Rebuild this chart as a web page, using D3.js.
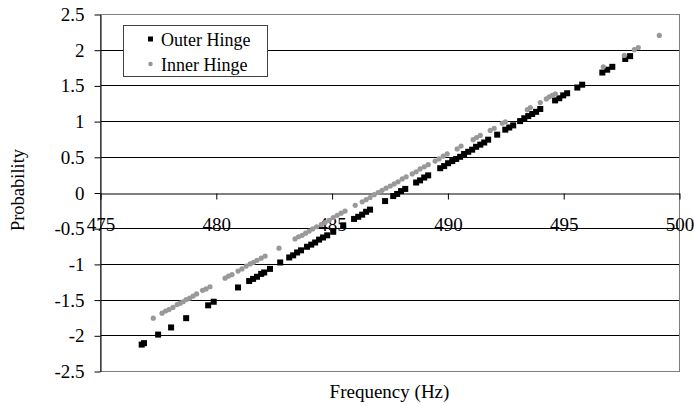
<!DOCTYPE html>
<html>
<head>
<meta charset="utf-8">
<script src="https://cdn.jsdelivr.net/npm/d3@7/dist/d3.min.js"></script>
<style>
  html, body { margin: 0; padding: 0; background: #fff; }
  svg text { font-family: "Liberation Serif", "Times New Roman", serif; fill: #000; }
</style>
</head>
<body>
<div id="chart"></div>
<script>
// Outer Hinge (black squares)
var outerFreq = [476.80, 476.90, 477.51, 478.07, 478.72, 479.67, 479.91, 480.96,
  481.44, 481.61, 481.78, 481.96, 482.09, 482.34, 482.78,
  483.17, 483.34, 483.51, 483.68, 483.94, 484.12, 484.29, 484.46, 484.63, 484.81,
  485.07, 485.50, 485.97, 486.15, 486.32, 486.49, 486.66, 487.31,
  487.66, 487.83, 488.00, 488.18, 488.65, 488.82, 489.00, 489.17,
  489.69, 489.86, 490.03, 490.21, 490.38, 490.55, 490.72, 490.90, 491.07, 491.24,
  491.42, 491.59, 491.76, 492.15, 492.50, 492.67, 492.84,
  493.14, 493.32, 493.49, 493.66, 493.83, 494.01, 494.65, 494.83, 495.00, 495.17,
  495.61, 495.82, 496.69, 496.90, 497.12, 497.68, 497.89];
var outerProb = [-2.13, -2.11, -1.99, -1.89, -1.76, -1.58, -1.53, -1.33,
  -1.24, -1.21, -1.18, -1.14, -1.12, -1.07, -0.98,
  -0.91, -0.88, -0.84, -0.81, -0.76, -0.73, -0.70, -0.66, -0.63, -0.60,
  -0.55, -0.46, -0.37, -0.34, -0.31, -0.27, -0.24, -0.12,
  -0.05, -0.02, 0.02, 0.05, 0.14, 0.17, 0.21, 0.24,
  0.34, 0.37, 0.41, 0.44, 0.47, 0.50, 0.54, 0.57, 0.60, 0.64,
  0.67, 0.70, 0.74, 0.81, 0.88, 0.91, 0.94,
  1.00, 1.04, 1.07, 1.10, 1.13, 1.17, 1.29, 1.32, 1.36, 1.39,
  1.47, 1.51, 1.68, 1.72, 1.76, 1.87, 1.91];

// Inner Hinge (grey dots)
var innerFreq = [477.30, 477.68, 477.83, 477.98, 478.15, 478.33, 478.46, 478.59,
  478.72, 478.87, 479.02, 479.17, 479.43, 479.58, 479.75, 480.40, 480.55, 480.70,
  480.96, 481.13, 481.31, 481.48, 481.63, 481.78, 481.96, 482.13, 482.73,
  483.42, 483.57, 483.73, 483.88, 484.03, 484.18, 484.35,
  484.55, 484.72, 484.89, 485.07, 485.24, 485.41, 485.58, 486.02,
  486.32, 486.49, 486.66, 486.84, 487.01, 487.18, 487.35, 487.53, 487.70, 487.87,
  488.05, 488.22, 488.48, 488.65, 488.82, 489.00, 489.17,
  489.47, 489.64, 489.82, 489.99, 490.42, 490.59, 491.11, 491.26, 491.42,
  491.85, 492.02, 492.37, 492.50, 493.45, 493.58, 494.01,
  494.27, 494.40, 494.53, 494.66, 496.73, 497.64, 498.07, 498.24, 499.15];
var innerProb = [-1.76, -1.69, -1.66, -1.64, -1.61, -1.57, -1.55, -1.53,
  -1.50, -1.48, -1.45, -1.42, -1.37, -1.35, -1.32, -1.20, -1.17, -1.15,
  -1.10, -1.07, -1.03, -1.00, -0.98, -0.95, -0.92, -0.89, -0.78,
  -0.65, -0.62, -0.60, -0.57, -0.54, -0.51, -0.48,
  -0.45, -0.42, -0.39, -0.35, -0.32, -0.29, -0.26, -0.18,
  -0.13, -0.10, -0.07, -0.03, 0.00, 0.03, 0.06, 0.09, 0.12, 0.15,
  0.19, 0.22, 0.26, 0.29, 0.33, 0.36, 0.39,
  0.44, 0.47, 0.51, 0.54, 0.61, 0.65, 0.74, 0.77, 0.80,
  0.87, 0.90, 0.97, 0.99, 1.16, 1.19, 1.26,
  1.31, 1.34, 1.36, 1.38, 1.76, 1.92, 2.00, 2.03, 2.20];

var xTicks = [475, 480, 485, 490, 495, 500];
var yTicks = [-2.5, -2, -1.5, -1, -0.5, 0, 0.5, 1, 1.5, 2, 2.5];
var seriesNames = ['Outer Hinge', 'Inner Hinge'];

var outer = outerFreq.map((f, i) => ({f: f, p: outerProb[i]}));
var inner = innerFreq.map((f, i) => ({f: f, p: innerProb[i]}));

var W = 694, H = 406;
var plot = {left: 100, right: 679, top: 14, bottom: 371};

var x = d3.scaleLinear().domain([475, 500]).range([plot.left, plot.right]);
var y = d3.scaleLinear().domain([-2.5, 2.5]).range([plot.bottom, plot.top]);

var svg = d3.select('#chart')
  .append('svg')
    .attr('width', W)
    .attr('height', H);

// horizontal gridlines
svg.append('g')
  .selectAll('line')
  .data(yTicks.filter(d => d !== 0 && Math.abs(d) !== 2.5))
  .enter().append('line')
    .attr('x1', plot.left).attr('x2', plot.right)
    .attr('y1', d => Math.round(y(d)) + 0.5)
    .attr('y2', d => Math.round(y(d)) + 0.5)
    .attr('stroke', '#000')
    .attr('stroke-width', 1);

// plot area border
svg.append('rect')
  .attr('x', plot.left + 0.5).attr('y', plot.top + 0.5)
  .attr('width', plot.right - plot.left).attr('height', plot.bottom - plot.top)
  .attr('fill', 'none')
  .attr('stroke', '#808080');

// y axis
var yAxis = d3.axisLeft(y)
  .tickValues(yTicks)
  .tickSize(6)
  .tickSizeOuter(0)
  .tickPadding(10)
  .tickFormat(d => String(d));

var gy = svg.append('g')
  .attr('transform', 'translate(' + (plot.left + 0.5) + ',0.5)')
  .call(yAxis);
gy.select('.domain').attr('stroke', '#000');
gy.selectAll('.tick line').attr('stroke', '#000');
gy.selectAll('.tick text')
  .style('font-size', '19px')
  .style('font-family', '"Liberation Serif", serif');

// x axis at y = 0
var xAxis = d3.axisBottom(x)
  .tickValues(xTicks)
  .tickSize(6)
  .tickSizeOuter(0)
  .tickPadding(18)
  .tickFormat(d => String(d));

var gx = svg.append('g')
  .attr('transform', 'translate(0.5,' + (Math.round(y(0)) + 0.5) + ')')
  .call(xAxis);
gx.select('.domain').attr('stroke', '#000');
gx.selectAll('.tick line').attr('stroke', '#000');
gx.selectAll('.tick text')
  .style('font-size', '19px')
  .style('font-family', '"Liberation Serif", serif');

// series
svg.append('g')
  .selectAll('rect')
  .data(outer)
  .enter().append('rect')
    .attr('x', d => x(d.f) - 3)
    .attr('y', d => y(d.p) - 3)
    .attr('width', 6)
    .attr('height', 6)
    .attr('fill', '#000');

svg.append('g')
  .selectAll('circle')
  .data(inner)
  .enter().append('circle')
    .attr('cx', d => x(d.f))
    .attr('cy', d => y(d.p))
    .attr('r', 2.6)
    .attr('fill', '#999');

// axis titles
svg.append('text')
  .attr('x', (plot.left + plot.right) / 2)
  .attr('y', 398)
  .attr('text-anchor', 'middle')
  .style('font-size', '19px')
  .text('Frequency (Hz)');

svg.append('text')
  .attr('transform', 'translate(24,190) rotate(-90)')
  .attr('text-anchor', 'middle')
  .style('font-size', '18.5px')
  .text('Probability');

// legend
var legend = svg.append('g');
legend.append('rect')
  .attr('x', 123.5).attr('y', 25.5)
  .attr('width', 144).attr('height', 51)
  .attr('fill', '#fff')
  .attr('stroke', '#404040');

legend.append('rect')
  .attr('x', 148).attr('y', 36.5)
  .attr('width', 5).attr('height', 5)
  .attr('fill', '#000');
legend.append('circle')
  .attr('cx', 150.5).attr('cy', 64)
  .attr('r', 2.3)
  .attr('fill', '#999');

legend.selectAll('text.lg')
  .data(seriesNames)
  .enter().append('text')
    .attr('class', 'lg')
    .attr('x', 161)
    .attr('y', (d, i) => 46 + i * 25)
    .style('font-size', '18px')
    .text(d => d);
</script>
</body>
</html>
